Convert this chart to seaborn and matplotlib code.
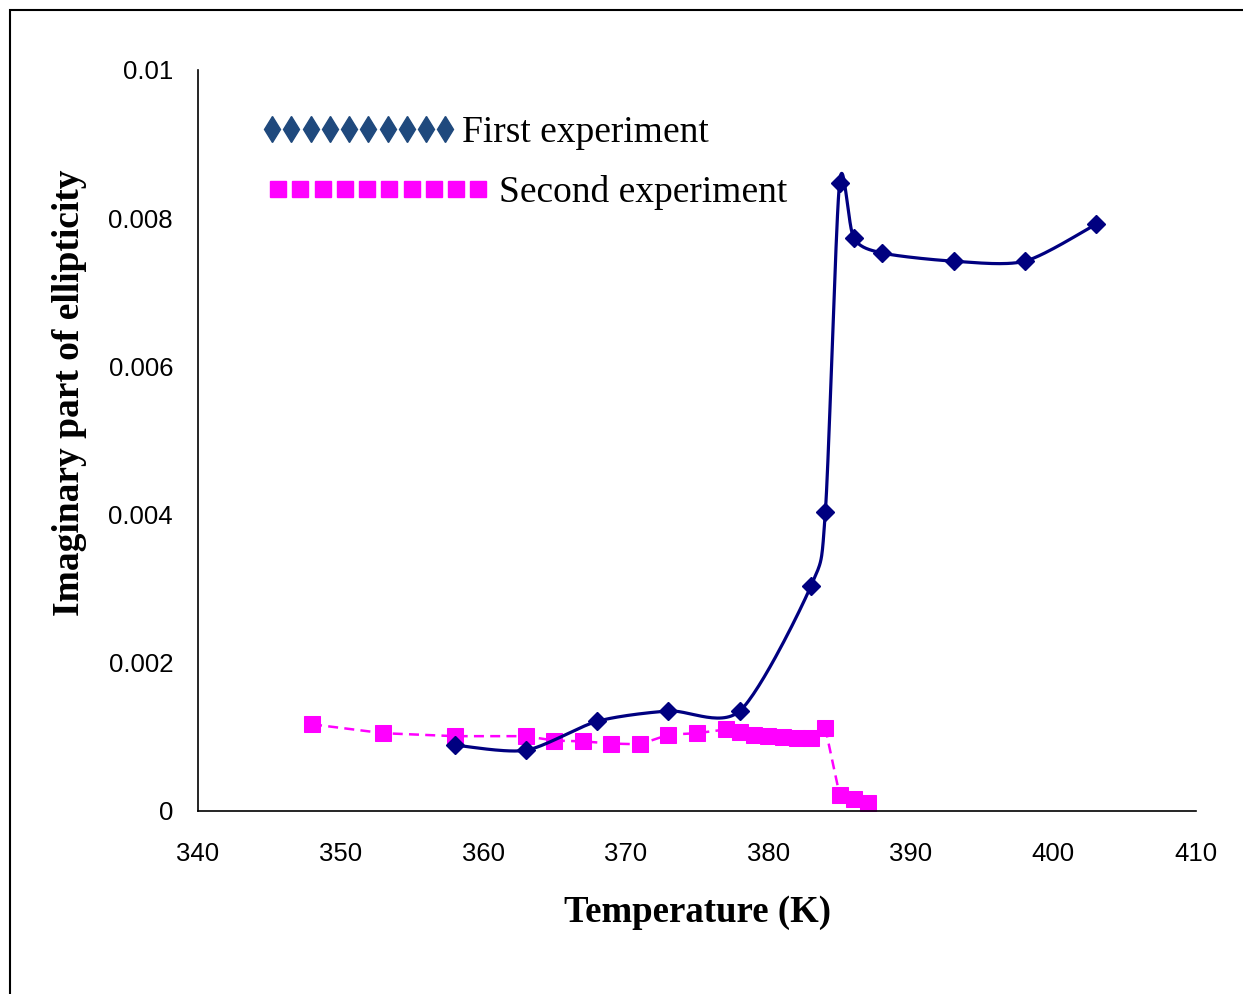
import numpy as np
import pandas as pd
import matplotlib
matplotlib.use("Agg")
import matplotlib.pyplot as plt
import seaborn as sns
from matplotlib.lines import Line2D
from matplotlib.patches import Rectangle
from matplotlib.ticker import FuncFormatter

# ---- data ----
first_T = [358, 363, 368, 373, 378, 383, 384, 385, 386, 388, 393, 398, 403]
first_val = [0.00089, 0.00082, 0.00121, 0.00135, 0.00135, 0.00304, 0.00403,
             0.00848, 0.00773, 0.00753, 0.00742, 0.00742, 0.00792]

second_T = [348, 353, 358, 363, 365, 367, 369, 371, 373, 375, 377, 378, 379,
            380, 381, 382, 383, 384, 385, 386, 387]
second_val = [0.00117, 0.00105, 0.00101, 0.00101, 0.00095, 0.00094, 0.00091,
              0.00090, 0.00103, 0.00105, 0.00110, 0.00106, 0.00102, 0.00101,
              0.00100, 0.00098, 0.00098, 0.00112, 0.00022, 0.00016, 0.00011]

labels = ["First experiment", "Second experiment"]
x_ticks = [340, 350, 360, 370, 380, 390, 400, 410]
y_ticks = [0, 0.002, 0.004, 0.006, 0.008, 0.01]
xlabel = "Temperature (K)"
ylabel = "Imaginary part of ellipticity"


def smooth(xs, ys, n=30, k=0.8):
    """Bezier smoothing similar to a spreadsheet 'smoothed line'."""
    p = np.column_stack([xs, ys]).astype(float)
    out = []
    for i in range(len(p) - 1):
        p0 = p[i - 1] if i > 0 else p[i]
        p1, p2 = p[i], p[i + 1]
        p3 = p[i + 2] if i + 2 < len(p) else p[i + 1]
        c1 = p1 + k * (p2 - p0) / 6.0
        c2 = p2 - k * (p3 - p1) / 6.0
        lo, hi = min(p1[1], p2[1]), max(p1[1], p2[1])
        # limit overshoot on steep segments
        if hi - lo > 0.001:
            c1[1] = np.clip(c1[1], lo, hi)
            c2[1] = np.clip(c2[1], lo, hi)
        t = np.linspace(0, 1, n, endpoint=(i == len(p) - 2))[:, None]
        seg = ((1 - t) ** 3) * p1 + 3 * ((1 - t) ** 2) * t * c1 + 3 * (1 - t) * t ** 2 * c2 + t ** 3 * p2
        out.append(seg)
    s = np.vstack(out)
    return s[:, 0], s[:, 1]


sns.set_style("white")
plt.rcParams["font.family"] = ["Liberation Sans", "DejaVu Sans"]
plt.rcParams["text.color"] = "black"

fig = plt.figure(figsize=(12.43, 9.94), dpi=100)
ax = fig.add_axes([198 / 1243, 1 - 811 / 994, 998 / 1243, 741 / 994])

navy = "#000080"
magenta = "#FF00FF"

df2 = pd.DataFrame({"T": second_T, "v": second_val})
sns.lineplot(data=df2, x="T", y="v", ax=ax, color=magenta, linestyle=(0, (4, 2.5)),
             linewidth=1.8, marker="s", markersize=11, markeredgecolor=magenta,
             markerfacecolor=magenta, sort=False, estimator=None)

sx, sy = smooth(first_T, first_val)
df1s = pd.DataFrame({"T": sx, "v": sy})
sns.lineplot(data=df1s, x="T", y="v", ax=ax, color=navy, linewidth=2.3,
             sort=False, estimator=None)
df1 = pd.DataFrame({"T": first_T, "v": first_val})
ax.plot(df1["T"], df1["v"], linestyle="none", marker="D", markersize=9.5,
        color=navy, markeredgecolor=navy)

ax.set_xlim(340, 410)
ax.set_ylim(0, 0.01)
ax.set_xticks(x_ticks)
ax.set_yticks(y_ticks)
ax.yaxis.set_major_formatter(FuncFormatter(lambda v, p: "0" if v == 0 else f"{v:g}"))
ax.tick_params(axis="both", direction="out", length=6, width=1, color="#808080",
               labelsize=18.5, labelcolor="black")
ax.tick_params(axis="x", pad=16)
ax.tick_params(axis="y", pad=12)
for s in ["top", "right"]:
    ax.spines[s].set_visible(False)
for s in ["left", "bottom"]:
    ax.spines[s].set_color("black")
    ax.spines[s].set_linewidth(1.2)

ax.set_xlabel(xlabel, fontfamily="Liberation Serif", fontweight="bold", fontsize=26.5,
              color="black")
ax.set_ylabel(ylabel, fontfamily="Liberation Serif", fontweight="bold", fontsize=27,
              color="black")
ax.xaxis.set_label_coords(0.5, -0.114)
ax.yaxis.set_label_coords(-0.111, 0.565)

h1 = Line2D([], [], linestyle="none", marker="d", markersize=13.5, color="#1F497D")
h2 = Line2D([], [], linestyle="none", marker="s", markersize=11.5, color=magenta)
common = dict(bbox_transform=fig.transFigure, frameon=False, numpoints=10,
              borderpad=0, borderaxespad=0, labelcolor="black",
              prop={"family": "Liberation Serif", "size": 27})
leg1 = ax.legend([h1], [labels[0]], loc="center left",
                 bbox_to_anchor=(261 / 1243, 1 - 133 / 994),
                 handlelength=5.21, handletextpad=0.16, **common)
ax.add_artist(leg1)
leg2 = ax.legend([h2], [labels[1]], loc="center left",
                 bbox_to_anchor=(267 / 1243, 1 - 193 / 994),
                 handlelength=5.93, handletextpad=0.25, **common)

# outer frame (partially cropped like the reference)
fig.patches.append(Rectangle((10 / 1243, -0.05), 1.2, 1 - 10 / 994 + 0.05,
                             transform=fig.transFigure, fill=False,
                             edgecolor="black", linewidth=1.5, zorder=10))

fig.savefig("out.png", dpi=100)
